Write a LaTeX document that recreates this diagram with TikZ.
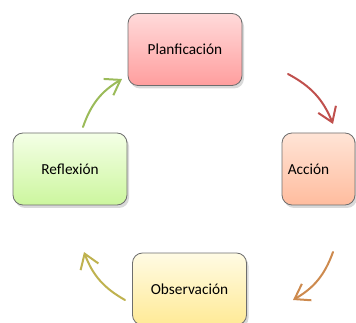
\documentclass[tikz,border=0pt]{standalone}
\usepackage{fontspec}
\setmainfont{Carlito}
\usetikzlibrary{arrows.meta,shadows}
\definecolor{bordergray}{RGB}{110,110,110}
\definecolor{redarr}{RGB}{192,80,77}
\definecolor{greenarr}{RGB}{155,187,89}
\definecolor{brownarr}{RGB}{205,138,78}
\definecolor{olivearr}{RGB}{191,178,79}
\tikzset{
  cyclebox/.style={draw=bordergray, line width=0.8pt, rounded corners=10pt,
    minimum width=114pt, minimum height=72pt, inner sep=0pt,
    font=\fontsize{15.3}{18}\selectfont,
    drop shadow={opacity=0.3, shadow xshift=2pt, shadow yshift=-3pt}},
  cyclearrow/.style={line width=2pt, line cap=round,
    -{Straight Barb[length=14pt,width=19pt,line width=2pt]}, bend left=20}
}
\begin{document}
\begin{tikzpicture}[x=1pt,y=-1pt]
\useasboundingbox (0,0) rectangle (356,323);
\begin{scope}
\clip (0,0) rectangle (356,323);
\node[cyclebox, top color={rgb,255:red,255;green,218;blue,218}, bottom color={rgb,255:red,255;green,158;blue,158}] (plan) at (185,49.5) {Planficación};
\node[cyclebox, minimum width=73pt, top color={rgb,255:red,255;green,228;blue,214}, bottom color={rgb,255:red,255;green,188;blue,158}] (acc) at (318.5,169) {\hspace*{-20pt}Acción};
\node[cyclebox, top color={rgb,255:red,244;green,255;blue,230}, bottom color={rgb,255:red,204;green,246;blue,158}] (ref) at (70,169) {Reflexión};
\node[cyclebox, top color={rgb,255:red,255;green,251;blue,228}, bottom color={rgb,255:red,255;green,234;blue,150}] (obs) at (189.5,289) {Observación};
\end{scope}
\coordinate (r1) at (288,74);
\coordinate (r2) at (333,124);
\coordinate (b1) at (333,252);
\coordinate (b2) at (293,300);
\coordinate (o1) at (125,300);
\coordinate (o2) at (84,252);
\coordinate (g1) at (83,127);
\coordinate (g2) at (122,79);
\draw[cyclearrow, redarr] (r1) to (r2);
\draw[cyclearrow, brownarr] (b1) to (b2);
\draw[cyclearrow, olivearr] (o1) to (o2);
\draw[cyclearrow, greenarr] (g1) to (g2);
\end{tikzpicture}
\end{document}
